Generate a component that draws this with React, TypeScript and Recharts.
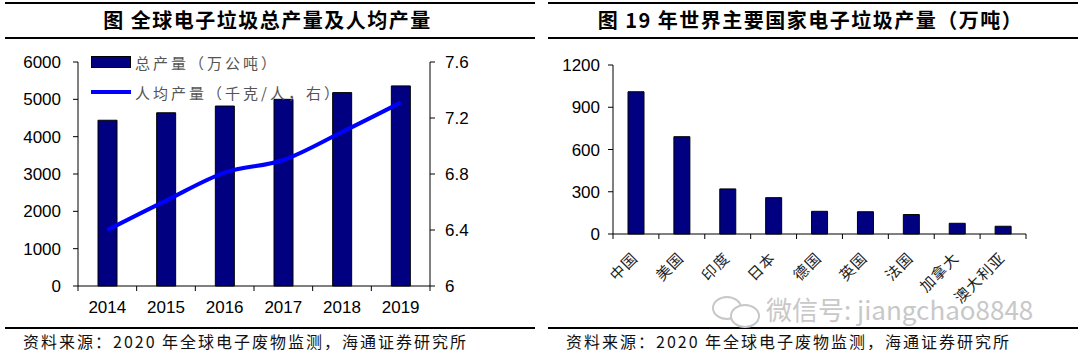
import React from 'react';
import { ComposedChart, BarChart, Bar, Line, XAxis, YAxis } from 'recharts';

const years = ['2014', '2015', '2016', '2017', '2018', '2019'];
const totalOutput = [4440, 4640, 4820, 5000, 5180, 5360];
const perCapita = [6.4, 6.61, 6.81, 6.9, 7.1, 7.31];
const leftTicks = [0, 1000, 2000, 3000, 4000, 5000, 6000];
const rightTicks = [6, 6.4, 6.8, 7.2, 7.6];

const countries = ['中国', '美国', '印度', '日本', '德国', '英国', '法国', '加拿大', '澳大利亚'];
const countryOutput = [1010, 691, 320, 258, 161, 158, 138, 76, 55];
const countryTicks = [0, 300, 600, 900, 1200];

const leftData = years.map((y, i) => ({ year: y, total: totalOutput[i], per: perCapita[i] }));
const rightData = countries.map((c, i) => ({ country: c, value: countryOutput[i] }));

const numFont = { fontFamily: '"Liberation Sans", Arial, sans-serif', fontSize: 17, fill: '#000' };
const cjk = '"Noto Sans CJK SC", sans-serif';

const LegendBox = () => (
  <div style={{ position: 'absolute', left: 91, top: 47, fontFamily: cjk, fontSize: 15, color: '#555', letterSpacing: 3, whiteSpace: 'nowrap' }}>
    <div style={{ display: 'flex', alignItems: 'center', height: 30 }}>
      <div style={{ width: 38, height: 10, background: '#000080', border: '1px solid #000' }} />
      <span style={{ marginLeft: 4 }}>总产量（万公吨）</span>
    </div>
    <div style={{ display: 'flex', alignItems: 'center', height: 30 }}>
      <div style={{ width: 40, height: 4, background: '#0000FF' }} />
      <span style={{ marginLeft: 4 }}>人均产量（千克/人，右）</span>
    </div>
  </div>
);

const boundaryLines = (x: number, y: number, props: any) => {
  const off = props.payload && props.payload.offset ? props.payload.offset : 0;
  const last = props.index === props.visibleTicksCount - 1;
  return (
    <>
      <line x1={x - off} x2={x - off} y1={y} y2={y + 5} stroke="#000" />
      {last ? <line x1={x + off} x2={x + off} y1={y} y2={y + 5} stroke="#000" /> : null}
    </>
  );
};

const YearTick = (props: any) => {
  const { x, y, payload } = props;
  return (
    <g>
      {boundaryLines(x, y, props)}
      <text x={x} y={y + 27} textAnchor="middle" style={numFont}>{payload.value}</text>
    </g>
  );
};

const RotTick = (props: any) => {
  const { x, y, payload } = props;
  return (
    <g>
      {boundaryLines(x, y, props)}
      <g transform={`translate(${x + 3},${y + 25})`}>
        <text x={0} y={0} textAnchor="end" transform="rotate(-45)" style={{ fontFamily: cjk, fontSize: 15, fill: '#222', letterSpacing: 1 }}>
          {payload.value}
        </text>
      </g>
    </g>
  );
};

const hr = (left: number, top: number, width: number, h: number) => (
  <div style={{ position: 'absolute', left, top, width, height: h, background: '#000' }} />
);

const srcStyle: React.CSSProperties = { position: 'absolute', top: 330, fontFamily: cjk, fontSize: 16, lineHeight: '22px', color: '#111', letterSpacing: 2, whiteSpace: 'nowrap' };
const titleStyle: React.CSSProperties = { position: 'absolute', top: 5, height: 30, textAlign: 'center', fontFamily: cjk, fontWeight: 'bold', fontSize: 20, lineHeight: '30px', color: '#000', letterSpacing: 1.5, whiteSpace: 'nowrap' };

export default function App() {
  return (
    <div style={{ position: 'absolute', left: 0, top: 0, width: 1080, height: 364, background: '#fff', overflow: 'hidden' }}>
      {hr(5, 2, 530, 2)}
      {hr(5, 37, 530, 2)}
      {hr(5, 327, 530, 2)}
      {hr(548, 2, 530, 2)}
      {hr(548, 37, 530, 2)}
      {hr(548, 327, 530, 2)}

      <div style={{ ...titleStyle, left: 5, width: 525 }}>图&nbsp;全球电子垃圾总产量及人均产量</div>
      <div style={{ ...titleStyle, left: 548, width: 525 }}>图&nbsp;19 年世界主要国家电子垃圾产量（万吨）</div>

      <div style={{ ...srcStyle, left: 23 }}>资料来源：2020 年全球电子废物监测，海通证券研究所</div>
      <div style={{ ...srcStyle, left: 566 }}>资料来源：2020 年全球电子废物监测，海通证券研究所</div>

      <div style={{ position: 'absolute', left: 712, top: 290, display: 'flex', alignItems: 'center', color: '#c8c8c8', fontFamily: cjk, fontSize: 26, whiteSpace: 'nowrap' }}>
        <div style={{ position: 'relative', width: 50, height: 30, marginRight: 4 }}>
          <div style={{ position: 'absolute', left: 0, top: 2, width: 26, height: 20, borderRadius: '50%', border: '2px solid #c8c8c8' }} />
          <div style={{ position: 'absolute', left: 18, top: 10, width: 26, height: 20, borderRadius: '50%', border: '2px solid #c8c8c8', background: '#fff' }} />
        </div>
        <span>微信号: jiangchao8848</span>
      </div>

      <div style={{ position: 'absolute', left: 0, top: 0 }}>
        <ComposedChart width={540} height={330} data={leftData} margin={{ top: 62, right: 50, left: 18, bottom: 14 }}>
          <XAxis dataKey="year" tickLine={false} tickSize={0} tickMargin={0} axisLine={{ stroke: '#000' }} tick={<YearTick />} height={30} interval={0} />
          <YAxis yAxisId="left" domain={[0, 6000]} ticks={leftTicks} width={60} axisLine={{ stroke: '#000' }} tickLine={{ stroke: '#000' }} tickSize={5} tick={numFont} tickMargin={12} />
          <YAxis yAxisId="right" orientation="right" domain={[6, 7.6]} ticks={rightTicks} width={60} axisLine={{ stroke: '#000' }} tickLine={{ stroke: '#000' }} tickSize={5} tick={numFont} tickMargin={10} />
          <Bar yAxisId="left" dataKey="total" fill="#000080" stroke="#000" strokeWidth={1} barSize={19} isAnimationActive={false} />
          <Line yAxisId="right" dataKey="per" type="monotone" stroke="#0000FF" strokeWidth={4} dot={false} isAnimationActive={false} />
        </ComposedChart>
        <LegendBox />
      </div>

      <div style={{ position: 'absolute', left: 540, top: 0 }}>
        <BarChart width={540} height={330} data={rightData} margin={{ top: 65, right: 54, left: 13, bottom: 26 }}>
          <XAxis dataKey="country" tickLine={false} tickSize={0} tickMargin={0} axisLine={{ stroke: '#000' }} tick={<RotTick />} height={70} interval={0} />
          <YAxis domain={[0, 1200]} ticks={countryTicks} width={60} axisLine={{ stroke: '#000' }} tickLine={{ stroke: '#000' }} tickSize={5} tick={numFont} tickMargin={8} />
          <Bar dataKey="value" fill="#000080" stroke="#000" strokeWidth={1} barSize={16} isAnimationActive={false} />
        </BarChart>
      </div>
    </div>
  );
}
